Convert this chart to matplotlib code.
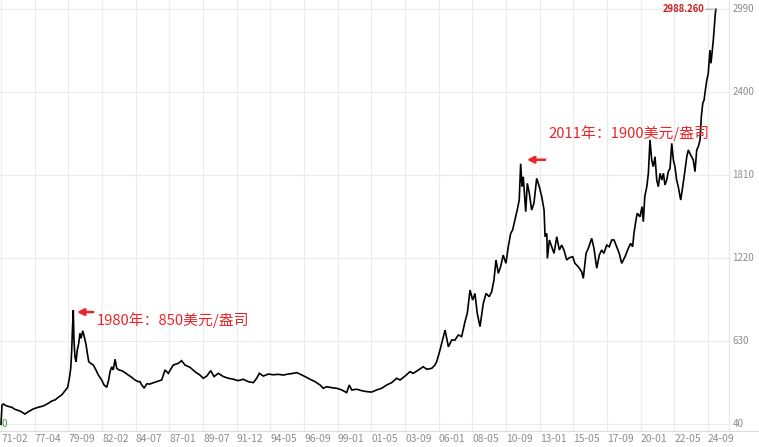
import numpy as np
import matplotlib
matplotlib.use('Agg')
import matplotlib.pyplot as plt
from matplotlib.transforms import offset_copy
from matplotlib.lines import Line2D

plt.rcParams['font.family'] = ['Noto Sans CJK SC', 'DejaVu Sans']

# ---------------- data ----------------
tick_labels = ['71-02', '77-04', '79-09', '82-02', '84-07', '87-01', '89-07', '91-12',
               '94-05', '96-09', '99-01', '01-05', '03-09', '06-01', '08-05', '10-09',
               '13-01', '15-05', '17-09', '20-01', '22-05', '24-09']
tick_dates = [1971.083, 1977.250, 1979.667, 1982.083, 1984.500, 1987.000, 1989.500, 1991.917,
              1994.333, 1996.667, 1999.000, 2001.333, 2003.667, 2006.000, 2008.333, 2010.667,
              2013.000, 2015.333, 2017.667, 2020.000, 2022.333, 2024.667]
y_ticks = [40, 630, 1220, 1810, 2400, 2990]

dates = [
    1971.08, 1971.27, 1971.50, 1972.13, 1973.04, 1973.65, 1974.56, 1975.48, 1976.08, 1977.00,
    1977.51, 1977.87, 1978.23, 1978.47, 1978.71, 1978.95, 1979.19, 1979.43, 1979.62,
    1979.74, 1979.84, 1979.91, 1979.95, 1980.02, 1980.07, 1980.14, 1980.22, 1980.31, 1980.41,
    1980.50, 1980.58, 1980.70, 1980.81, 1980.94, 1981.03, 1981.13, 1981.27, 1981.46, 1981.65,
    1981.82, 1982.06,
    1982.23, 1982.42, 1982.56, 1982.66, 1982.78, 1982.89, 1983.02, 1983.14, 1983.30, 1983.50,
    1983.73, 1983.97, 1984.21, 1984.45,
    1984.69, 1984.82, 1984.95, 1985.06, 1985.12, 1985.32, 1985.56, 1985.69, 1986.06, 1986.43,
    1986.68, 1986.92,
    1987.29, 1987.66, 1987.91, 1988.16, 1988.53, 1988.90, 1989.27,
    1989.52, 1989.77, 1990.05, 1990.29, 1990.60, 1990.96, 1991.32, 1991.68,
    1992.03, 1992.39, 1992.75, 1993.11, 1993.35, 1993.54, 1993.83, 1994.19,
    1994.53, 1994.88, 1995.23, 1995.57, 1995.92, 1996.16, 1996.38,
    1996.74, 1997.08, 1997.43, 1997.78, 1998.00, 1998.24, 1998.59, 1998.93,
    1999.28, 1999.62, 1999.80, 1999.97, 2000.32, 2000.66, 2001.01,
    2001.35, 2001.70, 2002.05, 2002.39, 2002.74, 2003.09, 2003.32,
    2003.67, 2004.01, 2004.24, 2004.59, 2004.93, 2005.17, 2005.52, 2005.74, 2005.86,
    2006.09, 2006.32, 2006.44, 2006.67, 2006.90, 2007.13, 2007.36, 2007.59, 2007.82, 2007.98,
    2008.17,
    2008.35, 2008.51, 2008.67, 2008.86, 2009.09, 2009.28, 2009.50, 2009.67, 2009.83, 2009.97,
    2010.13, 2010.29, 2010.47,
    2010.66, 2010.82, 2010.99, 2011.12, 2011.28, 2011.44, 2011.58, 2011.68, 2011.77, 2011.86,
    2012.03, 2012.14, 2012.28, 2012.44, 2012.60, 2012.79, 2012.97,
    2013.14, 2013.30, 2013.37, 2013.49, 2013.53, 2013.67, 2013.83, 2013.99, 2014.18, 2014.36,
    2014.52, 2014.68, 2014.87, 2015.05, 2015.29,
    2015.44, 2015.67, 2015.91, 2016.02, 2016.21, 2016.37, 2016.60, 2016.76, 2016.95, 2017.13,
    2017.29, 2017.45, 2017.64,
    2017.82, 2017.99, 2018.15, 2018.33, 2018.51, 2018.68, 2018.91, 2019.14, 2019.30, 2019.44,
    2019.53, 2019.67, 2019.76, 2019.95,
    2020.09, 2020.18, 2020.28, 2020.42, 2020.53, 2020.64, 2020.76, 2020.87, 2020.99, 2021.11,
    2021.22, 2021.34, 2021.46, 2021.57, 2021.68, 2021.80, 2021.91, 2022.03, 2022.15, 2022.26,
    2022.37, 2022.49, 2022.60, 2022.77, 2022.91, 2023.07, 2023.19, 2023.30, 2023.46, 2023.64,
    2023.76, 2023.88, 2023.99, 2024.11, 2024.20, 2024.30, 2024.39, 2024.48, 2024.58,
    2024.68, 2024.80, 2024.87, 2024.94, 2025.03, 2025.10, 2025.17, 2025.21]

prices = [
    38, 175, 182, 168, 159, 144, 132, 111, 127, 147,
    159, 168, 187, 203, 211, 230, 246, 277, 301,
    365, 436, 566, 685, 850, 637, 518, 483, 566, 613,
    685, 649, 703, 661, 602, 543, 483, 471, 459, 424,
    388, 353,
    317, 301, 353, 412, 447, 424, 500, 436, 424, 419,
    405, 388, 372, 353,
    341, 341, 317, 305, 294, 325, 324, 329, 341, 353,
    424, 400,
    459, 471, 490, 459, 443, 412, 388,
    365, 381, 419, 377, 400, 377, 365, 358,
    348, 358, 341, 334, 365, 400, 381, 395,
    390, 393, 388, 395, 400, 405, 395,
    377, 358, 341, 317, 294, 305, 298, 294,
    282, 263, 317, 282, 287, 277, 270,
    267, 282, 294, 317, 334, 365, 353,
    381, 412, 400, 424, 447, 429, 436, 459, 483,
    566, 661, 708, 589, 637, 637, 673, 661, 767, 827,
    992,
    921, 968, 827, 732, 898, 968, 945, 980, 1064, 1206,
    1111, 1158, 1241,
    1182, 1300, 1395, 1419, 1490, 1561, 1632, 1890, 1727, 1798,
    1549, 1751, 1680, 1561, 1609, 1786, 1727,
    1656, 1561, 1371, 1395, 1217, 1348, 1300, 1253, 1371, 1277,
    1312, 1277, 1206, 1222, 1229,
    1182, 1158, 1122, 1075, 1253, 1289, 1360, 1289, 1147, 1241,
    1277, 1253, 1312,
    1300, 1348, 1348, 1300, 1253, 1182, 1229, 1289, 1324, 1300,
    1395, 1490, 1538, 1513,
    1585, 1478, 1656, 1727, 1822, 2059, 1917, 1869, 1940, 1774,
    1727, 1822, 1774, 1822, 1739, 1774, 1834, 1857, 2035, 1917,
    1869, 1774, 1727, 1632, 1727, 1845, 1940, 1988, 1952, 1917,
    1834, 1988, 2012, 2059, 2225, 2320, 2343, 2414, 2485,
    2533, 2698, 2604, 2675, 2769, 2864, 2959, 2988.26]

peak_1980 = (1980.02, 850)
peak_2011 = (2011.68, 1890)
note_1980 = '1980年：850美元/盎司'
note_2011 = '2011年：1900美元/盎司'
last_label = '2988.260'


# ---------------- mapping (bar-index axis) ----------------
def to_pos(d):
    d = np.asarray(d, dtype=float)
    idx = np.arange(len(tick_dates), dtype=float)
    pos = np.interp(d, tick_dates, idx)
    slope = 1.0 / (tick_dates[-1] - tick_dates[-2])
    return np.where(d > tick_dates[-1], idx[-1] + (d - tick_dates[-1]) * slope, pos)


W, H = 759, 447
fig = plt.figure(figsize=(W / 100, H / 100), dpi=100)
ax = fig.add_axes([0 / W, 16 / H, 729 / W, 431 / H])
ax.set_xlim(-1 / 33.67, 728 / 33.67)
ax.set_ylim(-9.8, 3054)

grid_c = '#ececec'
ax.set_xticks(np.arange(len(tick_labels)))
ax.set_xticklabels(tick_labels, ha='left')
ax.set_yticks(y_ticks)
ax.set_yticklabels([str(v) for v in y_ticks])
ax.yaxis.tick_right()
ax.tick_params(axis='both', length=0, colors='#8c8c8c')
ax.tick_params(axis='x', pad=2.2, labelsize=7.4)
ax.tick_params(axis='y', pad=2.4, labelsize=7.0)
for lab in ax.get_yticklabels():
    lab.set_verticalalignment('center')
ax.grid(True, color=grid_c, lw=0.8)
ax.set_axisbelow(True)
for s in ['top', 'left']:
    ax.spines[s].set_visible(False)
ax.spines['right'].set_color('#e6e6e6')
ax.spines['bottom'].set_color('#dcdcdc')
ax.spines['right'].set_linewidth(0.8)
ax.spines['bottom'].set_linewidth(0.8)
fig.add_artist(Line2D([729 / W, 1], [16 / H, 16 / H], color='#dcdcdc', lw=0.8))

xs = to_pos(dates)
ax.plot(xs, prices, color='black', lw=1.2, solid_joinstyle='miter')

red = '#e8262b'


def offs(dx, dy):
    return offset_copy(ax.transData, fig=fig, x=dx, y=dy, units='dots')


# 1980 annotation
p1 = (float(to_pos(peak_1980[0])), peak_1980[1])
ax.annotate('', xy=p1, xycoords=offs(3.7, -2), xytext=p1, textcoords=offs(20, -2),
            arrowprops=dict(arrowstyle='-|>', color=red, lw=1.8, mutation_scale=10,
                            shrinkA=0, shrinkB=0))
ax.text(p1[0], p1[1], note_1980, transform=offs(23.5, -10), color=red, fontsize=10.7,
        ha='left', va='center')

# 2011 annotation
p2 = (float(to_pos(peak_2011[0])), peak_2011[1])
ax.annotate('', xy=p2, xycoords=offs(6.3, 4), xytext=p2, textcoords=offs(24.5, 4),
            arrowprops=dict(arrowstyle='-|>', color=red, lw=1.8, mutation_scale=10,
                            shrinkA=0, shrinkB=0))
ax.text(p2[0], p2[1], note_2011, transform=offs(27.3, 31), color=red, fontsize=10.7,
        ha='left', va='center')

# last value label
pl = (float(xs[-1]), prices[-1])
ax.annotate('', xy=pl, xycoords=offs(0, 0), xytext=pl, textcoords=offs(-10, 0),
            arrowprops=dict(arrowstyle='-', color='#9aa8b4', lw=0.8, shrinkA=0, shrinkB=0))
ax.text(pl[0], pl[1], last_label, transform=offs(-11, 0), color='#cc1f1f', fontsize=6.8,
        fontweight='bold', ha='right', va='center')

# start label
ps = (float(xs[0]), prices[0])
ax.text(ps[0], ps[1], '0', transform=offs(0.5, 0), color='#3a9a3a', fontsize=7,
        ha='left', va='center')

fig.savefig('out.png', dpi=100, facecolor='white')
